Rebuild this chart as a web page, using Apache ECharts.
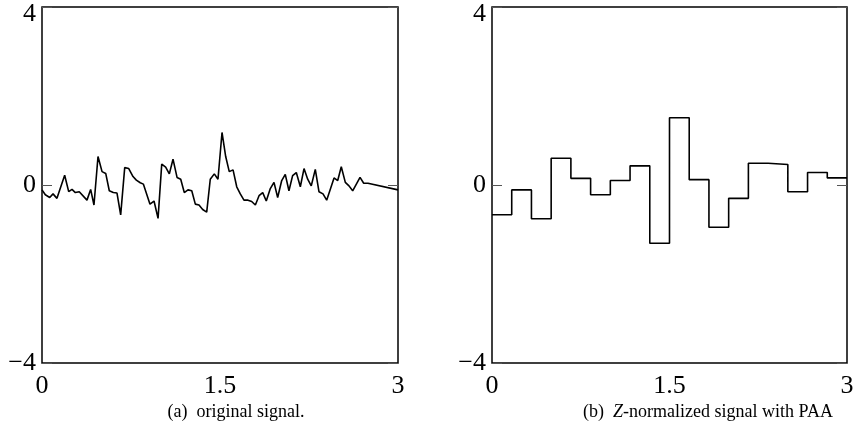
<!DOCTYPE html>
<html>
<head>
<meta charset="utf-8">
<script src="https://cdn.jsdelivr.net/npm/echarts@6/dist/echarts.min.js"></script>
<style>
  html, body { margin: 0; padding: 0; background: #fff; }
  #chart { width: 859px; height: 434px; }
</style>
</head>
<body>
<div id="chart"></div>
<script>
// (a) original signal: [time, value] vertices
const signalT = [0, 0.028, 0.065, 0.093, 0.126, 0.191, 0.225, 0.253, 0.281, 0.314,
  0.379, 0.41, 0.438, 0.472, 0.506, 0.537, 0.567, 0.601, 0.632, 0.663,
  0.697, 0.731, 0.767, 0.795, 0.828, 0.854, 0.91, 0.944, 0.978, 1.009,
  1.042, 1.073, 1.104, 1.138, 1.169, 1.199, 1.23, 1.262, 1.292, 1.323,
  1.354, 1.388, 1.418, 1.452, 1.483, 1.517, 1.548, 1.578, 1.61, 1.641,
  1.671, 1.702, 1.736, 1.767, 1.798, 1.829, 1.86, 1.89, 1.924, 1.955,
  1.986, 2.02, 2.05, 2.081, 2.112, 2.143, 2.177, 2.208, 2.239, 2.269,
  2.303, 2.334, 2.368, 2.399, 2.461, 2.492, 2.522, 2.556, 2.587, 2.618,
  2.68, 2.711, 2.747, 3.0]
const signalV = [-0.11, -0.22, -0.28, -0.2, -0.3, 0.22, -0.15, -0.1, -0.17, -0.15,
  -0.34, -0.1, -0.45, 0.64, 0.3, 0.26, -0.13, -0.17, -0.18, -0.67,
  0.39, 0.37, 0.19, 0.11, 0.05, 0.02, -0.43, -0.36, -0.75, 0.47,
  0.4, 0.25, 0.58, 0.17, 0.13, -0.17, -0.11, -0.13, -0.43, -0.45,
  -0.55, -0.61, 0.13, 0.25, 0.13, 1.18, 0.64, 0.3, 0.34, -0.04,
  -0.2, -0.34, -0.34, -0.37, -0.45, -0.24, -0.17, -0.36, -0.08, 0.06,
  -0.28, 0.1, 0.24, -0.13, 0.21, 0.28, -0.04, 0.37, 0.13, -0.02,
  0.35, -0.15, -0.2, -0.34, 0.16, 0.1, 0.41, 0.06, -0.02, -0.13,
  0.17, 0.04, 0.04, -0.11]

// (b) PAA segments (18 equal segments over 0..3)
const paaValues = [-0.67, -0.11, -0.76, 0.6, 0.15, -0.22, 0.1, 0.43, -1.31,
  1.51, 0.12, -0.95, -0.3, 0.49, 0.46, -0.15, 0.28, 0.16]

const xTicks = [0, 1.5, 3]
const yTicks = [-4, 0, 4]

const serif = '"Liberation Serif", "DejaVu Serif", serif'

const signalData = signalT.map((t, i) => [t, signalV[i]])
const segW = 3 / paaValues.length
const paaData = paaValues.map((v, i) => [i * segW, v])
paaData.push([3, paaValues[paaValues.length - 1]])

const chart = echarts.init(document.getElementById('chart'))

function grid(left, width) {
  return {
    left: left, top: 7, width: width, height: 356,
    show: true, borderColor: '#000', borderWidth: 1.5,
    backgroundColor: 'transparent', containLabel: false
  }
}

function xAxis(idx) {
  return {
    type: 'value', gridIndex: idx,
    min: xTicks[0], max: xTicks[2], interval: xTicks[1] - xTicks[0],
    axisLine: { show: false }, axisTick: { show: false }, splitLine: { show: false },
    axisLabel: {
      fontFamily: serif, fontSize: 26, color: '#000', margin: 10,
      formatter: v => String(v)
    }
  }
}

function yAxis(idx, side) {
  return {
    type: 'value', gridIndex: idx, position: side,
    min: yTicks[0], max: yTicks[2], interval: yTicks[2] - yTicks[1],
    axisLine: { show: false }, splitLine: { show: false },
    axisTick: { show: true, inside: true, length: 10, lineStyle: { color: '#555', width: 1 } },
    axisLabel: {
      show: side === 'left',
      fontFamily: serif, fontSize: 26, color: '#000', margin: 6,
      formatter: v => v === 4 ? '{t|4}' : (v < 0 ? '\u2212' + Math.abs(v) : String(v)),
      rich: { t: { fontFamily: serif, fontSize: 26, color: '#000', padding: [14, 0, 0, 0] } }
    }
  }
}

const option = {
  backgroundColor: '#fff',
  animation: false,
  grid: [grid(42, 356), grid(492, 355)],
  xAxis: [xAxis(0), xAxis(1)],
  yAxis: [yAxis(0, 'left'), yAxis(0, 'right'), yAxis(1, 'left'), yAxis(1, 'right')],
  series: [
    {
      type: 'line', xAxisIndex: 0, yAxisIndex: 0, data: signalData,
      symbol: 'none', lineStyle: { color: '#000', width: 1.6 }
    },
    {
      type: 'line', xAxisIndex: 1, yAxisIndex: 2, data: paaData, step: 'end',
      symbol: 'none', lineStyle: { color: '#000', width: 1.6 }
    }
  ],
  graphic: [
    {
      type: 'text', x: 236, y: 412,
      style: {
        text: '(a)  original signal.', font: '18px ' + serif, fill: '#000',
        align: 'center', verticalAlign: 'middle'
      }
    },
    {
      type: 'text', x: 708, y: 412,
      style: {
        text: '(b)  {i|Z}-normalized signal with PAA', font: '18px ' + serif, fill: '#000',
        align: 'center', verticalAlign: 'middle',
        rich: { i: { fontStyle: 'italic', fontFamily: serif, fontSize: 18, color: '#000' } }
      }
    }
  ]
}

chart.setOption(option)
</script>
</body>
</html>
